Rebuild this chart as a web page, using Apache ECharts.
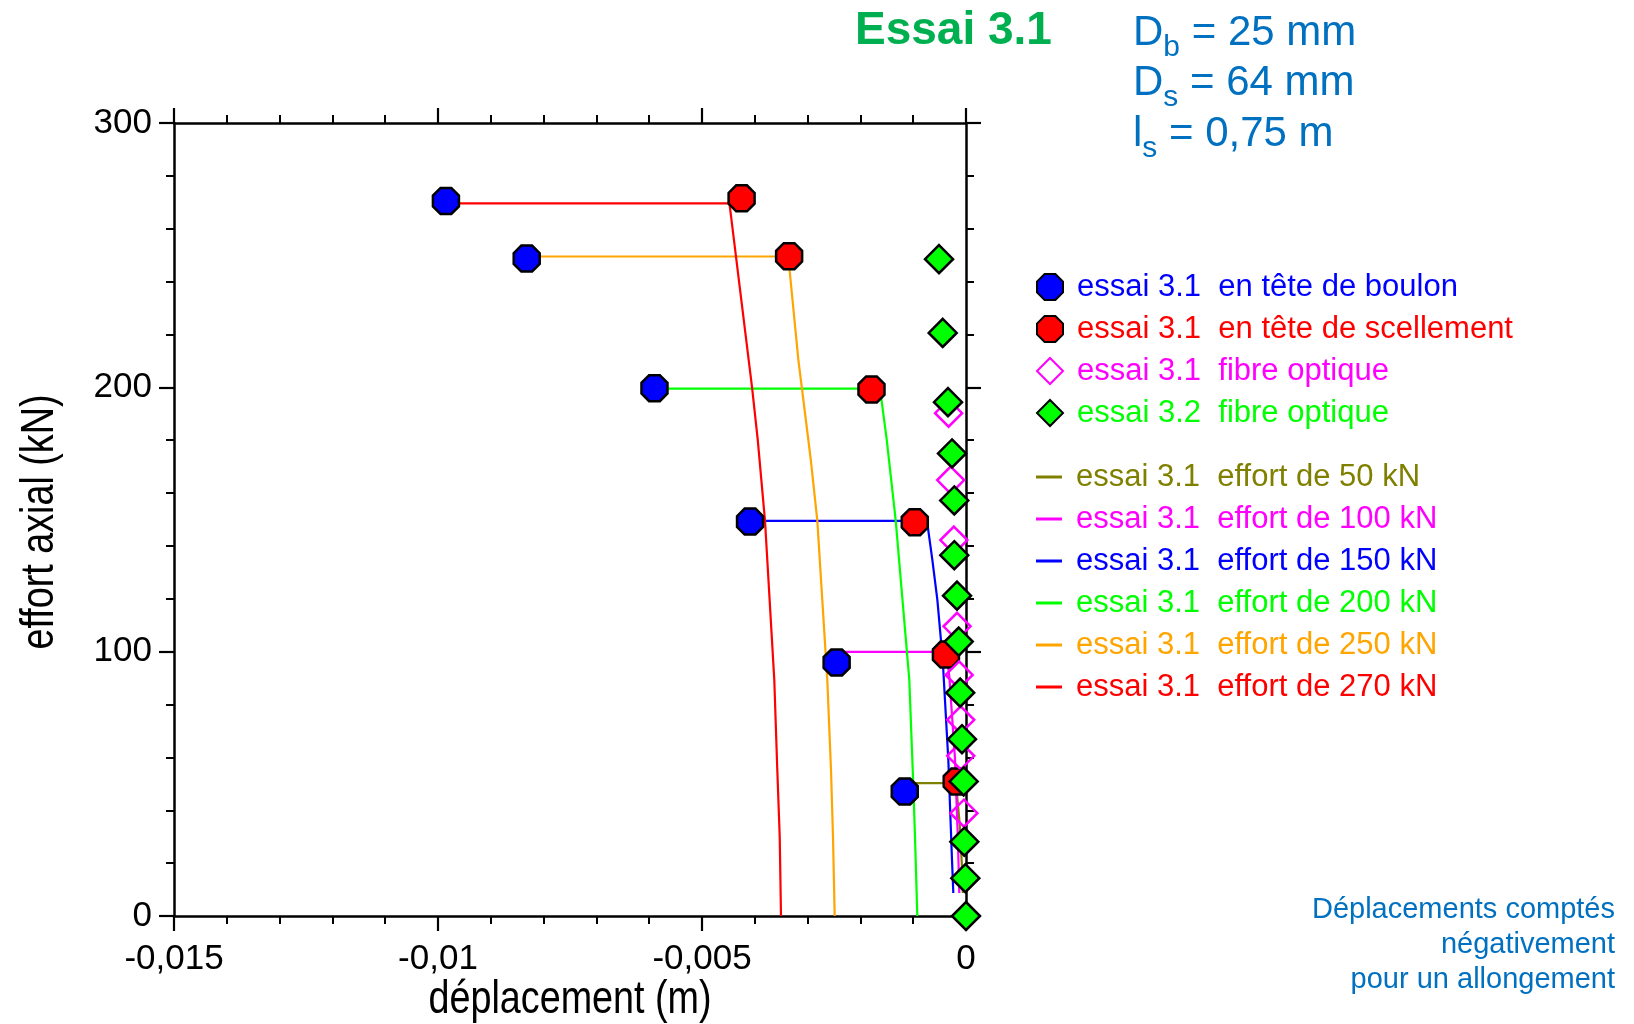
<!DOCTYPE html>
<html>
<head>
<meta charset="utf-8">
<script src="https://cdn.jsdelivr.net/npm/echarts@6/dist/echarts.min.js"></script>
<style>
  html, body { margin: 0; padding: 0; background: #fff; }
  #chart { width: 1634px; height: 1024px; }
</style>
</head>
<body>
<div id="chart"></div>
<script>
// Axis ranges and tick labels
const xMin = -0.015, xMax = 0, xStep = 0.005;
const yMin = 0, yMax = 300, yStep = 100;
const xTickLabels = ['-0,015', '-0,01', '-0,005', '0'];
const yTickLabels = ['0', '100', '200', '300'];

// Head displacements [displacement (m), axial load (kN)]
const boulonHead = [[-0.00985, 270.5], [-0.00832, 248.7], [-0.0059, 199.7], [-0.00409, 149.2], [-0.00245, 95.9], [-0.00116, 47.1]];
const scellementHead = [[-0.00425, 271.5], [-0.00335, 249.6], [-0.00179, 199.2], [-0.00097, 149.0], [-0.00038, 98.9], [-0.000176, 50.9]];

// Optical fibre readings
const fibre31 = [[-0.00033, 190.2], [-0.00029, 164.9], [-0.00023, 142.2], [-0.00017, 109.6], [-0.00013, 91.2], [-0.0001, 74.2], [-0.0001, 60.6], [-0.00004, 38.9], [0.00001, 19.0], [0.00002, 6.8]];
const fibre32 = [[-0.000511, 248.5], [-0.000441, 220.6], [-0.000341, 194.4], [-0.000265, 175.0], [-0.000222, 157.2], [-0.000222, 136.5], [-0.00017, 121.2], [-0.000138, 103.8], [-0.00011, 84.5], [-0.000076, 66.9], [-0.000044, 50.9], [-0.000032, 28.1], [-0.000013, 14.3], [0, 0]];

// Displacement profiles along the anchor for each load step
const effort50 = [[-0.00116, 50.3], [-0.00019, 50.3], [-0.00012, 35], [-0.00008, 20], [-0.00006, 8.7]];
const effort100 = [[-0.00245, 99.9], [-0.00037, 99.9], [-0.000316, 90.6], [-0.00021, 60], [-0.000155, 30], [-0.000127, 8.7]];
const effort150 = [[-0.00409, 149.5], [-0.000739, 149.5], [-0.000638, 134.8], [-0.000543, 119.7], [-0.000441, 97], [-0.000335, 59.1], [-0.000265, 21.2], [-0.00024, 8.7]];
const effort200 = [[-0.0059, 199.5], [-0.001629, 199.5], [-0.001502, 180.3], [-0.001331, 149.6], [-0.001074, 89.4], [-0.001009, 55.3], [-0.000966, 30], [-0.000922, 0]];
const effort250 = [[-0.00832, 249.5], [-0.003366, 249.5], [-0.003176, 210.6], [-0.00294, 172.7], [-0.002816, 149.6], [-0.002627, 89.4], [-0.002557, 55.3], [-0.002519, 30], [-0.002487, 0]];
const effort270 = [[-0.00985, 269.6], [-0.00448, 269.6], [-0.00405, 199.6], [-0.003945, 180.3], [-0.003807, 149.6], [-0.003631, 89.4], [-0.003574, 55.3], [-0.003528, 30], [-0.003504, 0]];

const FONT = "'Liberation Sans', Arial, sans-serif";
const octagon = 'path://M29.3,0L70.7,0L100,29.3L100,70.7L70.7,100L29.3,100L0,70.7L0,29.3Z';

const lineDefs = [
  { name: 'essai 3.1  effort de 50 kN', data: effort50, color: '#808000' },
  { name: 'essai 3.1  effort de 100 kN', data: effort100, color: '#FF00FF' },
  { name: 'essai 3.1  effort de 150 kN', data: effort150, color: '#0000FF' },
  { name: 'essai 3.1  effort de 200 kN', data: effort200, color: '#00FF00' },
  { name: 'essai 3.1  effort de 250 kN', data: effort250, color: '#FFA500' },
  { name: 'essai 3.1  effort de 270 kN', data: effort270, color: '#FF0000' }
];

const markerDefs = [
  { name: 'essai 3.1  en tête de boulon', data: boulonHead, symbol: octagon, size: 26, fill: '#0000FF', border: '#000', text: '#0000FF' },
  { name: 'essai 3.1  en tête de scellement', data: scellementHead, symbol: octagon, size: 26, fill: '#FF0000', border: '#000', text: '#FF0000' },
  { name: 'essai 3.1  fibre optique', data: fibre31, symbol: 'diamond', size: 27, fill: 'rgba(0,0,0,0)', border: '#FF00FF', text: '#FF00FF' },
  { name: 'essai 3.2  fibre optique', data: fibre32, symbol: 'diamond', size: 28, fill: '#00FF00', border: '#000', text: '#00FF00' }
];

const series = [];
lineDefs.forEach(d => series.push({
  name: d.name, type: 'line', data: d.data, symbol: 'none', z: 2,
  color: d.color,
  lineStyle: { color: d.color, width: 2.2 },
  animation: false
}));
markerDefs.forEach((d, i) => series.push({
  name: d.name, type: 'scatter', data: d.data, symbol: d.symbol, symbolSize: d.size, z: 3 + i,
  itemStyle: { color: d.fill, borderColor: d.border, borderWidth: 2.5, opacity: 1 },
  animation: false
}));

const tickCommon = {
  axisLine: { show: true, onZero: false, lineStyle: { color: '#000', width: 2.5 } },
  axisTick: { show: true, length: 15, lineStyle: { color: '#000', width: 2.2 } },
  minorTick: { show: true, splitNumber: 5, length: 8, lineStyle: { color: '#000', width: 2 } },
  splitLine: { show: false },
  minorSplitLine: { show: false }
};

// Axis titles are set in a tall, condensed face
const axisTitleFont = "46px 'Liberation Sans', Arial, sans-serif";

const chart = echarts.init(document.getElementById('chart'), null, { renderer: 'canvas' });
chart.setOption({
  backgroundColor: '#fff',
  animation: false,
  textStyle: { fontFamily: FONT },
  grid: { left: 174, right: 668, top: 123, bottom: 108, containLabel: false },
  xAxis: [
    Object.assign({
      type: 'value', position: 'bottom', min: xMin, max: xMax, interval: xStep,
      axisLabel: {
        fontSize: 35, color: '#000', margin: 26, fontFamily: FONT,
        formatter: v => xTickLabels[Math.round((v - xMin) / xStep)]
      }
    }, tickCommon),
    Object.assign({
      type: 'value', position: 'top', min: xMin, max: xMax, interval: xStep,
      axisLabel: { show: false }
    }, tickCommon)
  ],
  yAxis: [
    Object.assign({
      type: 'value', position: 'left', min: yMin, max: yMax, interval: yStep,
      axisLabel: {
        fontSize: 35, color: '#000', margin: 22, fontFamily: FONT,
        formatter: v => yTickLabels[Math.round((v - yMin) / yStep)]
      }
    }, tickCommon),
    Object.assign({
      type: 'value', position: 'right', min: yMin, max: yMax, interval: yStep,
      axisLabel: { show: false }
    }, tickCommon)
  ],
  legend: [
    {
      orient: 'vertical', left: 1031, top: 266, itemWidth: 26, itemHeight: 26, itemGap: 10,
      selectedMode: false,
      textStyle: { fontSize: 31, lineHeight: 32, fontFamily: FONT, padding: [0, 0, 0, 9] },
      data: markerDefs.map(d => ({ name: d.name, textStyle: { color: d.text } }))
    },
    {
      orient: 'vertical', left: 1031, top: 456, itemWidth: 26, itemHeight: 3, itemGap: 10,
      selectedMode: false, icon: 'rect',
      textStyle: { fontSize: 31, lineHeight: 32, fontFamily: FONT, padding: [0, 0, 0, 9] },
      data: lineDefs.map(d => ({ name: d.name, textStyle: { color: d.color } }))
    }
  ],
  graphic: [
    {
      type: 'text', x: 570, y: 1000, scaleX: 0.82, z: 10,
      style: { text: 'déplacement (m)', fill: '#000', font: axisTitleFont, textAlign: 'center', textVerticalAlign: 'middle' }
    },
    {
      type: 'text', x: 40, y: 522, scaleX: 0.82, rotation: Math.PI / 2, z: 10,
      style: { text: 'effort axial (kN)', fill: '#000', font: axisTitleFont, textAlign: 'center', textVerticalAlign: 'middle' }
    },
    {
      type: 'text', left: 855, top: 8, z: 10,
      style: { text: 'Essai 3.1', fill: '#00B050', font: "bold 46px 'Liberation Sans', Arial, sans-serif" }
    },
    {
      type: 'text', x: 1133, y: 33, z: 10,
      style: {
        text: '{a|D}{s|b}{a| = 25 mm}', textVerticalAlign: 'middle',
        rich: { a: { fontSize: 42, fill: '#0070C0', fontFamily: FONT }, s: { fontSize: 30, fill: '#0070C0', fontFamily: FONT, padding: [29, 0, 0, 0] } }
      }
    },
    {
      type: 'text', x: 1133, y: 83, z: 10,
      style: {
        text: '{a|D}{s|s}{a| = 64 mm}', textVerticalAlign: 'middle',
        rich: { a: { fontSize: 42, fill: '#0070C0', fontFamily: FONT }, s: { fontSize: 30, fill: '#0070C0', fontFamily: FONT, padding: [29, 0, 0, 0] } }
      }
    },
    {
      type: 'text', x: 1133, y: 134, z: 10,
      style: {
        text: '{a|l}{s|s}{a| = 0,75 m}', textVerticalAlign: 'middle',
        rich: { a: { fontSize: 42, fill: '#0070C0', fontFamily: FONT }, s: { fontSize: 30, fill: '#0070C0', fontFamily: FONT, padding: [29, 0, 0, 0] } }
      }
    },
    {
      type: 'text', x: 1615, y: 945, z: 10,
      style: {
        text: 'Déplacements comptés\nnégativement\npour un allongement',
        textAlign: 'right', textVerticalAlign: 'middle', lineHeight: 35,
        fill: '#0070C0', font: "29px 'Liberation Sans', Arial, sans-serif"
      }
    }
  ],
  series: series
});
</script>
</body>
</html>
